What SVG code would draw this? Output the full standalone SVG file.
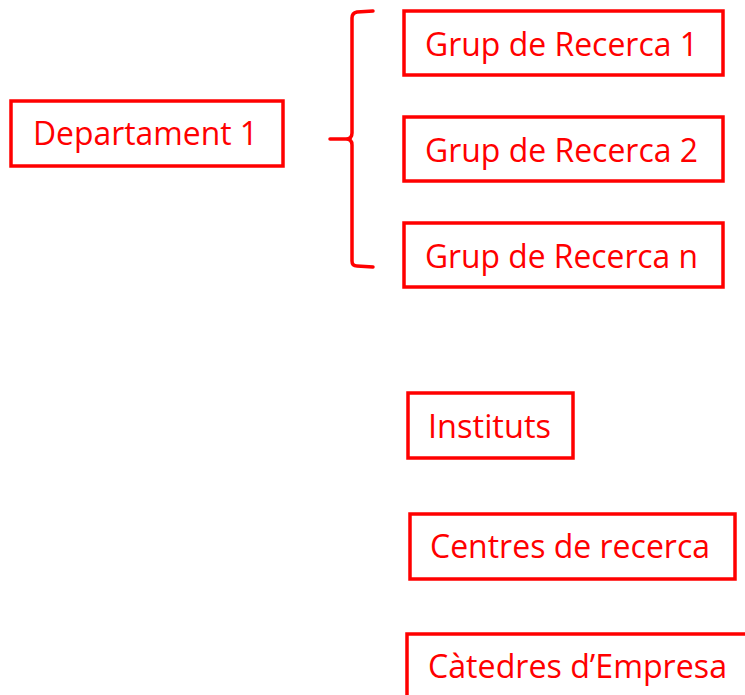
<svg xmlns="http://www.w3.org/2000/svg" width="745" height="695" viewBox="0 0 745 695">
<style>
.box{fill:#fff;stroke:#ff0000;stroke-width:3.5}
.t{font-family:"Open Sans","Liberation Sans",sans-serif;font-size:32px;fill:#ff0000}
.br{fill:none;stroke:#ff0000;stroke-width:3.5;stroke-linecap:round;stroke-linejoin:round}
</style>
<rect width="745" height="695" fill="#fff"/>
<g id="departament1"><rect class="box" x="11" y="101" width="272" height="65"/><text class="t" x="33" y="145" textLength="225" lengthAdjust="spacingAndGlyphs">Departament 1</text></g>
<g id="grup1"><rect class="box" x="404" y="11" width="319" height="64"/><text class="t" x="425" y="56" textLength="273" lengthAdjust="spacingAndGlyphs">Grup de Recerca 1</text></g>
<g id="grup2"><rect class="box" x="404" y="117" width="319" height="64"/><text class="t" x="425" y="162" textLength="273" lengthAdjust="spacingAndGlyphs">Grup de Recerca 2</text></g>
<g id="grupn"><rect class="box" x="404" y="223" width="319" height="64"/><text class="t" x="425" y="268" textLength="273" lengthAdjust="spacingAndGlyphs">Grup de Recerca n</text></g>
<g id="instituts"><rect class="box" x="408" y="393" width="165" height="65"/><text class="t" x="428" y="438" textLength="123" lengthAdjust="spacingAndGlyphs">Instituts</text></g>
<g id="centres"><rect class="box" x="410" y="514" width="325" height="65"/><text class="t" x="430" y="558" textLength="280" lengthAdjust="spacingAndGlyphs">Centres de recerca</text></g>
<g id="catedres"><rect class="box" x="407" y="634" width="345" height="70"/><text class="t" x="428" y="678" textLength="299" lengthAdjust="spacingAndGlyphs">Càtedres d’Empresa</text></g>
<g id="connectors"><path class="br" d="M373,11 L357,12 Q352,13 352,18 L352,133 Q352,139 346,139 L330,139 M346,139 Q352,139 352,145 L352,261 Q352,266 357,266 L373,267"/></g>
</svg>
